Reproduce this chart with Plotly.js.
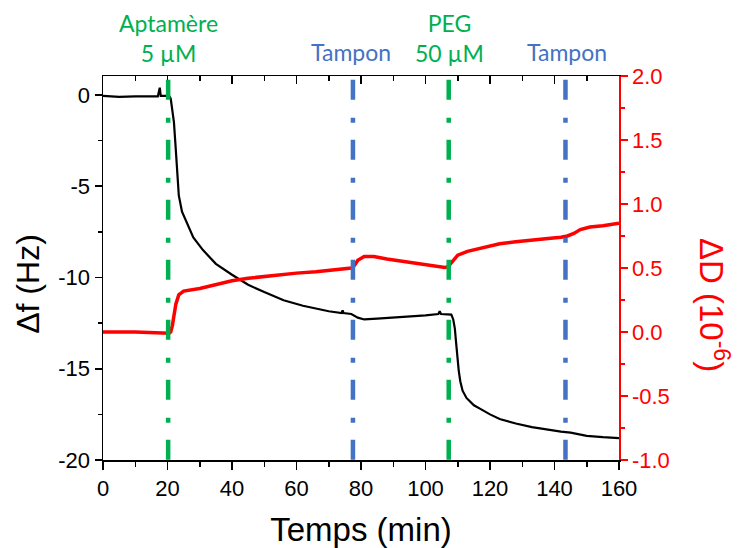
<!DOCTYPE html>
<html>
<head>
<meta charset="utf-8">
<script src="https://cdn.plot.ly/plotly-3.0.1.min.js"></script>
<style>html,body{margin:0;padding:0;background:#fff;}#chart{width:739px;height:548px;}</style>
</head>
<body>
<div id="chart"></div>
<script>
// Δf (Hz) — black, left axis
const timeF = [0,5,10,15,17,17.6,17.9,19,20.5,21,21.5,22,22.5,23,23.5,24.5,26,28,31,35,40,45,50,56,62,66,70,74,74.3,74.6,77,79,81,85,92,100,104,104.4,104.8,108,108.6,109.1,109.5,109.8,110.3,110.8,111.5,112.7,115,117,120,123,128,133,138,142,145,150,155,160];
const deltaF = [-0.05,-0.1,-0.08,-0.1,-0.08,0.4,-0.05,-0.05,-0.05,-0.2,-0.8,-1.5,-2.8,-4.3,-5.5,-6.4,-7.0,-7.8,-8.5,-9.25,-9.85,-10.4,-10.8,-11.25,-11.55,-11.72,-11.85,-11.95,-11.8,-11.95,-12.0,-12.2,-12.3,-12.25,-12.18,-12.08,-12.0,-11.85,-12.0,-12.03,-12.3,-12.8,-13.6,-14.3,-15.1,-15.7,-16.2,-16.6,-17.0,-17.2,-17.5,-17.75,-18.0,-18.2,-18.35,-18.45,-18.5,-18.68,-18.75,-18.8];

// ΔD (10^-6) — red, right axis
const timeD = [0,10,20.5,21,21.5,22,22.6,23.5,25,30,35,40,45,50,55,60,66,72,77,78,79,81,84,88,94,100,106,107,108.5,110,113,118,123,128,133,138,142,144,146,148,151,155,160];
const deltaD = [0.0,0.0,-0.01,0.0,0.05,0.12,0.22,0.29,0.32,0.34,0.37,0.40,0.42,0.435,0.445,0.46,0.47,0.485,0.5,0.52,0.56,0.59,0.59,0.57,0.55,0.53,0.505,0.51,0.56,0.6,0.63,0.66,0.69,0.705,0.72,0.73,0.74,0.75,0.77,0.8,0.82,0.83,0.85];

// Injection markers
const markerTimes = [20.2, 77.5, 107.2, 143.4];
const markerColors = ['#00B050', '#4472C4', '#00B050', '#4472C4'];
const markerLabels = ['Aptamère<br>5 µM', 'Tampon', 'PEG<br>50 µM', 'Tampon'];
const labelTimes = [20.2, 77, 107.5, 144];

// Tick labels
const xTicks = [0,20,40,60,80,100,120,140,160];
const yTicks = [-20,-15,-10,-5,0];
const yTickText = ['-20','-15','-10','-5','0'];
const y2Ticks = [-1,-0.5,0,0.5,1,1.5,2];
const y2TickText = ['-1.0','-0.5','0.0','0.5','1.0','1.5','2.0'];

const traces = [
  {x: timeD, y: deltaD, type: 'scatter', mode: 'lines', yaxis: 'y2', line: {color: '#FF0000', width: 3.5}, showlegend: false, hoverinfo: 'skip'},
  {x: timeF, y: deltaF, type: 'scatter', mode: 'lines', line: {color: '#000000', width: 2.2}, showlegend: false, hoverinfo: 'skip'},
  {x: [], y: [], type: 'scatter', xaxis: 'x2', yaxis: 'y', showlegend: false, hoverinfo: 'skip'}
];

const shapes = markerTimes.map((t, i) => ({
  type: 'line', xref: 'x', yref: 'paper', x0: t, x1: t, y0: 0.99, y1: 0,
  line: {color: markerColors[i], width: 4.5, dash: '20px,18px,5px,17px'}, layer: 'above'
}));

const titleFamily = 'Liberation Sans, Arial, sans-serif';
const annotations = labelTimes.map((t, i) => ({
  x: t, xref: 'x', y: markerLabels[i].includes('<br>') ? 1.10 : 1.0625, yref: 'paper',
  text: markerLabels[i], showarrow: false, xanchor: 'center', yanchor: 'middle',
  font: {family: 'Lato, sans-serif', size: 23, color: markerColors[i]}
}));
annotations.push({
  x: 1.184, xref: 'paper', y: 0.404, yref: 'paper', text: 'ΔD (10<sup>-6</sup>)',
  textangle: 90, showarrow: false, xanchor: 'center', yanchor: 'middle',
  font: {family: titleFamily, size: 33, color: '#FF0000'}
});
annotations.push({
  x: -0.146, xref: 'paper', y: 0.458, yref: 'paper', text: 'Δf (Hz)',
  textangle: -90, showarrow: false, xanchor: 'center', yanchor: 'middle',
  font: {family: titleFamily, size: 32, color: '#000'}
});

const axisFont = {family: titleFamily, size: 22, color: '#000'};

const layout = {
  width: 739, height: 548,
  margin: {l: 103, r: 120, t: 76, b: 88, pad: 0},
  paper_bgcolor: '#fff', plot_bgcolor: '#fff',
  font: {family: titleFamily},
  xaxis: {
    range: [0, 160], tickvals: xTicks, ticks: 'outside', ticklen: 8, tickwidth: 1.5, tickcolor: '#000',
    minor: {dtick: 10, ticks: 'outside', ticklen: 5, tickwidth: 1.5, tickcolor: '#000'},
    showline: true, linecolor: '#000', linewidth: 1.5, showgrid: false, zeroline: false,
    tickfont: axisFont,
    title: {text: 'Temps (min)', font: {family: titleFamily, size: 33, color: '#000'}, standoff: 18}
  },
  xaxis2: {
    overlaying: 'x', side: 'top', anchor: 'y', range: [0, 160], tickvals: xTicks,
    ticks: 'inside', ticklen: 8, tickwidth: 1.5, tickcolor: '#000',
    minor: {dtick: 10, ticks: 'inside', ticklen: 5, tickwidth: 1.5, tickcolor: '#000'},
    showticklabels: false, showline: true, linecolor: '#000', linewidth: 1.5, showgrid: false, zeroline: false
  },
  yaxis: {
    range: [-20, 1.04], tickvals: yTicks, ticktext: yTickText, ticks: 'outside', ticklen: 7, tickwidth: 1.5, tickcolor: '#000',
    minor: {dtick: 2.5, ticks: 'outside', ticklen: 4, tickwidth: 1.5, tickcolor: '#000'},
    showline: true, linecolor: '#000', linewidth: 1.5, showgrid: false, zeroline: false,
    tickfont: axisFont
  },
  yaxis2: {
    overlaying: 'y', side: 'right', range: [-1, 2], tickvals: y2Ticks, ticktext: y2TickText,
    ticks: 'outside', ticklen: 7, tickwidth: 1.5, tickcolor: '#FF0000',
    minor: {dtick: 0.25, ticks: 'outside', ticklen: 4, tickwidth: 1.5, tickcolor: '#FF0000'},
    showline: true, linecolor: '#FF0000', linewidth: 1.5, showgrid: false, zeroline: false,
    tickfont: {family: titleFamily, size: 22, color: '#FF0000'}
  },
  shapes: shapes,
  annotations: annotations,
  showlegend: false
};

Plotly.newPlot('chart', traces, layout, {staticPlot: true, displayModeBar: false});
</script>
</body>
</html>
